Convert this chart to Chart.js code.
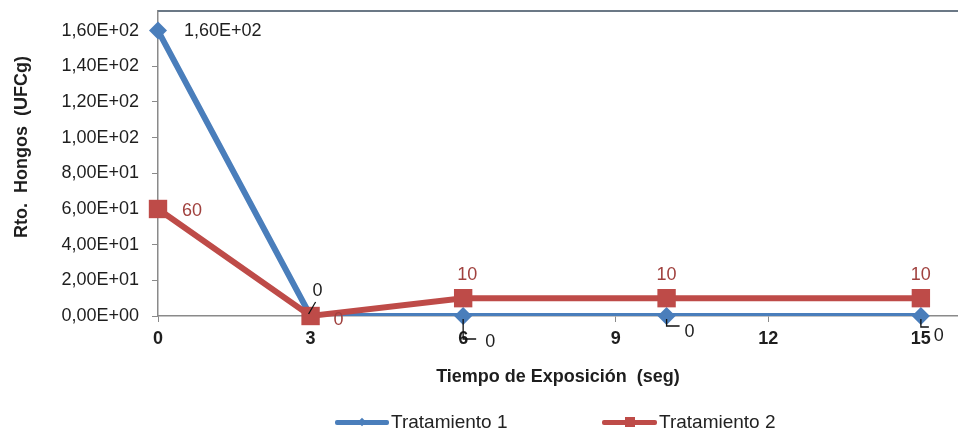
<!DOCTYPE html>
<html><head><meta charset="utf-8">
<script src="https://cdn.jsdelivr.net/npm/chart.js@4.4.0/dist/chart.umd.min.js"></script>
<style>
html,body{margin:0;padding:0;background:#fff;}
#wrap{position:relative;width:958px;height:432px;overflow:hidden;background:#fff;}
canvas{display:block;}
.leg{position:absolute;top:410px;height:24px;display:flex;align-items:center;font-family:"Liberation Sans",Arial,sans-serif;font-size:19px;color:#222;white-space:nowrap;}
.sw{position:relative;height:24px;margin-right:2px;}
.sw .ln{position:absolute;left:0;right:0;top:10px;height:5px;border-radius:2px;}
.sw .mk{position:absolute;left:50%;top:50%;}
</style></head>
<body>
<div id="wrap"><canvas id="c" width="958" height="432"></canvas><div id="legend"></div></div>
<script>
// ---- data ----
const seriesNames = ['Tratamiento 1', 'Tratamiento 2'];
const xValues = [0, 3, 6, 10, 15];
const tratamiento1 = [160, 0, 0, 0, 0];
const tratamiento2 = [60, 0, 10, 10, 10];
const xTicks = [0, 3, 6, 9, 12, 15];
const yTicks = [0, 20, 40, 60, 80, 100, 120, 140, 160];
const xTitle = 'Tiempo de Exposición  (seg)';
const yTitle = 'Rto.  Hongos  (UFCg)';

// ---- styles ----
const BLUE = '#4A7EBB', RED = '#BE4B48', RED_TXT = '#A0413E', TXT = '#1e1e1e', AXIS = '#8a8a8a';
const FONT = '"Liberation Sans", Arial, sans-serif';
Chart.defaults.font.family = FONT;

function sci(v) {
  if (v === 0) return '0,00E+00';
  const e = Math.floor(Math.log10(Math.abs(v)));
  const m = v / Math.pow(10, e);
  return m.toFixed(2).replace('.', ',') + 'E' + (e < 0 ? '-' : '+') + String(Math.abs(e)).padStart(2, '0');
}
const fmt1 = v => v === 0 ? '0' : sci(v);
const fmt2 = v => String(v);

// label placements relative to each point (pixels)
const place1 = [
  {dx: 26, dy: 0, align: 'left'},
  {dx: 7, dy: -25, lead: [[-2, -2], [5, -14]]},
  {dx: 27, dy: 26, lead: [[0, 3], [0, 23], [13, 23]]},
  {dx: 23, dy: 16, lead: [[0, 3], [0, 10], [13, 10]]},
  {dx: 18, dy: 20, lead: [[0, 3], [0, 11], [8, 11]]}
];
const place2 = [
  {dx: 24, dy: 2, align: 'left'},
  {dx: 28, dy: 4},
  {dx: 4, dy: -23},
  {dx: 0, dy: -23},
  {dx: 0, dy: -23}
];

const pts = arr => xValues.map((x, i) => ({x: x, y: arr[i]}));
const noPad = s => { s.paddingTop = 0; s.paddingBottom = 0; s.paddingLeft = 0; s.paddingRight = 0; };

const labelPlugin = {
  id: 'labels',
  beforeDatasetsDraw(chart) {
    const {ctx, chartArea} = chart;
    ctx.save();
    ctx.strokeStyle = '#6B7886';
    ctx.lineWidth = 2;
    ctx.beginPath();
    ctx.moveTo(chartArea.left, chartArea.top);
    ctx.lineTo(chartArea.right, chartArea.top);
    ctx.stroke();
    ctx.restore();
  },
  afterDatasetsDraw(chart) {
    const {ctx} = chart;
    ctx.save();
    ctx.font = '18px ' + FONT;
    ctx.textBaseline = 'middle';
    const draw = (metaIdx, values, place, fmt, color) => {
      const meta = chart.getDatasetMeta(metaIdx);
      meta.data.forEach((el, i) => {
        const p = place[i];
        if (p.lead) {
          ctx.strokeStyle = '#111';
          ctx.lineWidth = 1.3;
          ctx.beginPath();
          p.lead.forEach((q, k) => {
            if (k === 0) ctx.moveTo(el.x + q[0], el.y + q[1]);
            else ctx.lineTo(el.x + q[0], el.y + q[1]);
          });
          ctx.stroke();
        }
        ctx.fillStyle = color;
        ctx.textAlign = p.align || 'center';
        ctx.fillText(fmt(values[i]), el.x + p.dx, el.y + p.dy);
      });
    };
    draw(2, tratamiento1, place1, fmt1, TXT);
    draw(0, tratamiento2, place2, fmt2, RED_TXT);
    // y-axis title
    ctx.fillStyle = TXT;
    ctx.font = 'bold 18px ' + FONT;
    ctx.textAlign = 'center';
    ctx.translate(22, 147);
    ctx.rotate(-Math.PI / 2);
    ctx.fillText(yTitle, 0, 0);
    ctx.restore();
  }
};

new Chart(document.getElementById('c'), {
  type: 'line',
  data: {
    datasets: [
      {label: seriesNames[1], data: pts(tratamiento2), borderColor: RED, backgroundColor: RED,
       borderWidth: 6, pointStyle: 'rect', pointRadius: 13, pointBorderWidth: 0, order: 0, tension: 0, clip: false},
      {label: seriesNames[0], data: pts(tratamiento1), borderColor: BLUE, backgroundColor: BLUE,
       borderWidth: 6, pointRadius: 0, order: 2, tension: 0, clip: {left: 10, top: 10, right: 10, bottom: 0}},
      {label: seriesNames[0] + ' ', data: pts(tratamiento1), borderColor: BLUE, backgroundColor: BLUE,
       showLine: false, pointStyle: 'rectRot', pointRadius: 9, pointBorderWidth: 0, order: 1, clip: false}
    ]
  },
  options: {
    responsive: false,
    animation: false,
    devicePixelRatio: 1,
    layout: {autoPadding: false, padding: {top: 11, right: 0, bottom: 36, left: 0}},
    plugins: {legend: {display: false}, tooltip: {enabled: false}},
    scales: {
      x: {
        type: 'linear', min: 0, max: 15.73,
        afterBuildTicks: s => { s.ticks = xTicks.map(v => ({value: v})); },
        afterFit: s => { s.height = 80; noPad(s); },
        grid: {drawOnChartArea: false, drawTicks: true, tickLength: 6, color: AXIS},
        border: {color: AXIS, width: 1.5},
        ticks: {font: {size: 18, weight: 'bold'}, color: TXT, padding: 6, maxRotation: 0},
        title: {display: true, text: xTitle, font: {size: 18, weight: 'bold'}, color: TXT, padding: {top: 0, bottom: 8}}
      },
      y: {
        type: 'linear', min: 0, max: 171,
        afterBuildTicks: s => { s.ticks = yTicks.map(v => ({value: v})); },
        afterFit: s => { s.width = 158; noPad(s); },
        grid: {drawOnChartArea: false, drawTicks: true, tickLength: 6, color: AXIS},
        border: {color: AXIS, width: 1.5},
        ticks: {font: {size: 18}, color: TXT, padding: 13, callback: v => sci(v)}
      }
    }
  },
  plugins: [labelPlugin]
});

// ---- HTML legend ----
const legendSpec = [
  {name: seriesNames[0], color: BLUE, left: 335, width: 54, marker: 'diamond'},
  {name: seriesNames[1], color: RED, left: 602, width: 55, marker: 'square'}
];
const leg = document.getElementById('legend');
legendSpec.forEach(s => {
  const item = document.createElement('div');
  item.className = 'leg';
  item.style.left = s.left + 'px';
  const sw = document.createElement('div');
  sw.className = 'sw';
  sw.style.width = s.width + 'px';
  const ln = document.createElement('div');
  ln.className = 'ln';
  ln.style.background = s.color;
  const mk = document.createElement('div');
  mk.className = 'mk';
  mk.style.background = s.color;
  if (s.marker === 'diamond') {
    mk.style.width = '6px'; mk.style.height = '6px';
    mk.style.transform = 'translate(-50%,-50%) rotate(45deg)';
  } else {
    mk.style.width = '10px'; mk.style.height = '10px';
    mk.style.transform = 'translate(-50%,-50%)';
  }
  sw.appendChild(ln); sw.appendChild(mk);
  const tx = document.createElement('span');
  tx.textContent = s.name;
  item.appendChild(sw); item.appendChild(tx);
  leg.appendChild(item);
});
</script>
</body></html>
